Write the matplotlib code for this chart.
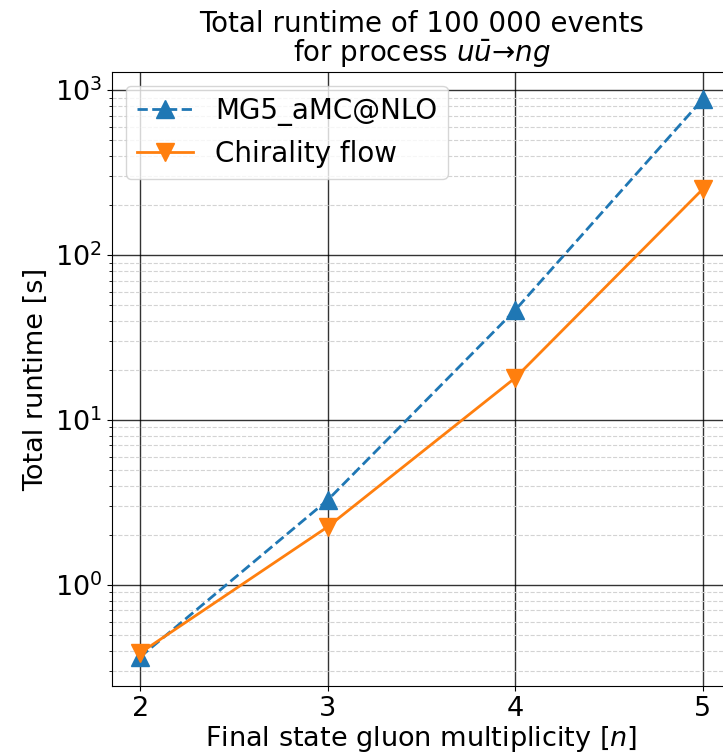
import matplotlib
matplotlib.use("Agg")
import matplotlib.pyplot as plt  # plot library

# Data
n_gluons = [2, 3, 4, 5]
runtime_mg5 = [0.366, 3.27, 46.4, 880]
runtime_chiral = [0.387, 2.25, 18.0, 251]

fig = plt.figure(figsize=(7.23, 7.55), dpi=100)
ax = fig.add_axes([112 / 723, 69 / 755, 619 / 723, 614 / 755])

ax.plot(n_gluons, runtime_mg5, "--^", color="#1f77b4", lw=2, ms=13,
        label="MG5_aMC@NLO")
ax.plot(n_gluons, runtime_chiral, "-v", color="#ff7f0e", lw=2, ms=13,
        label="Chirality flow")

ax.set_yscale("log")
ax.set_xlim(1.85, 5.15)
ax.set_ylim(0.244, 1285)
ax.set_xticks(n_gluons)

# Grid: solid major, dashed light minor
ax.grid(which="major", color="black", lw=1, alpha=0.8)
ax.grid(which="minor", axis="y", color="lightgray", ls="--", lw=0.8)
ax.set_axisbelow(True)

ax.tick_params(axis="both", which="major", labelsize=19.5)
ax.set_xlabel("Final state gluon multiplicity [$n$]", fontsize=19.5,
              labelpad=2)
ax.set_ylabel("Total runtime [s]", fontsize=19.5)

# Title, two lines placed on their baselines over the axes centre
title_kw = dict(ha="center", va="baseline", fontsize=20)
fig.text(421.5 / 723, 1 - 32 / 755, "Total runtime of 100 000 events", **title_kw)
fig.text(421.5 / 723, 1 - 61 / 755, "for process $u\\bar{u}$\u2192$ng$", **title_kw)

ax.legend(loc="upper left", fontsize=20)

fig.savefig("out.png", dpi=100)
